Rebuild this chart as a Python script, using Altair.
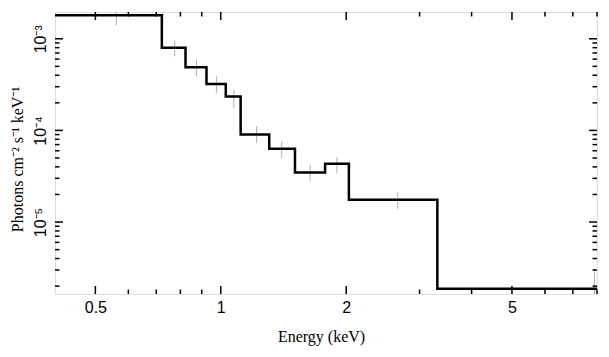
import altair as alt
import pandas as pd

# Model step histogram (bin lower edges and model values)
bin_edges = [0.40, 0.722, 0.823, 0.924, 1.028, 1.116, 1.307, 1.507, 1.78, 2.03, 3.31, 12.5]
model_vals = [1.81e-3, 8.0e-4, 4.9e-4, 3.22e-4, 2.34e-4, 9.0e-5, 6.3e-5, 3.48e-5, 4.34e-5, 1.75e-5, 1.87e-6]

# Data error bars (bin centres, lower and upper)
err_x = [0.561, 0.775, 0.874, 0.976, 1.075, 1.219, 1.40, 1.639, 1.90, 2.66, 7.89]
err_lo = [1.40e-3, 6.45e-4, 3.9e-4, 2.57e-4, 1.76e-4, 7.3e-5, 5.0e-5, 2.78e-5, 3.43e-5, 1.39e-5, 1.2e-6]
err_hi = [2.3e-3, 9.6e-4, 5.94e-4, 3.9e-4, 2.79e-4, 1.11e-4, 7.6e-5, 4.23e-5, 5.08e-5, 2.11e-5, 3.1e-6]

# Tick values
x_major = [0.5, 1, 2, 5]
x_minor = [0.6, 0.7, 0.8, 0.9, 3, 4, 6, 7, 8]
y_major = [1e-3, 1e-4, 1e-5]
y_minor = [2e-6, 3e-6, 4e-6, 5e-6, 6e-6, 7e-6, 8e-6, 9e-6,
           2e-5, 3e-5, 4e-5, 5e-5, 6e-5, 7e-5, 8e-5, 9e-5,
           2e-4, 3e-4, 4e-4, 5e-4, 6e-4, 7e-4, 8e-4, 9e-4]

W, H = 542, 282
MAJ, MIN = 8, 4.5

xscale = alt.Scale(type="log", domain=[0.4, 8], nice=False)
yscale = alt.Scale(type="log", domain=[1.64e-6, 1.96e-3], nice=False)

xaxis = alt.Axis(values=x_major, title="Energy (keV)", grid=False, ticks=False, tickSize=0,
                 domain=False, labelFont="Liberation Sans", labelFontSize=16, labelColor="black",
                 labelPadding=5, labelExpr="format(datum.value, '')",
                 titleFont="Liberation Serif", titleFontSize=16, titleFontWeight="normal",
                 titleColor="black", titleX=266, titleY=47, titleBaseline="alphabetic",
                 titleAlign="center", labelFlush=False)
yaxis = alt.Axis(values=y_major, title="Photons cm⁻² s⁻¹ keV⁻¹", grid=False, ticks=False, tickSize=0,
                 domain=False, labelFont="Liberation Sans", labelFontSize=16, labelColor="black",
                 labelAngle=270, labelAlign="center", labelBaseline="alphabetic", labelPadding=10,
                 labelExpr="datum.value < 0.00005 ? '10⁻⁵' : (datum.value < 0.0005 ? '10⁻⁴' : '10⁻³')",
                 titleFont="Liberation Serif", titleFontSize=16, titleFontWeight="normal",
                 titleColor="black", titleAngle=270, titleX=-38, titleY=147,
                 titleBaseline="middle", titleAlign="center", labelFlush=False)

step_df = pd.DataFrame({"e": bin_edges, "f": model_vals + [model_vals[-1]]})
err_df = pd.DataFrame({"e": err_x, "lo": err_lo, "hi": err_hi})

X = lambda f: alt.X(f, type="quantitative", scale=xscale, axis=xaxis)
Y = lambda f: alt.Y(f, type="quantitative", scale=yscale, axis=yaxis)

step = alt.Chart(step_df).mark_line(interpolate="step-after", color="black", strokeWidth=2.5, clip=True).encode(
    x=X("e"), y=Y("f"))

errs = alt.Chart(err_df).mark_rule(color="#b0b0b0", strokeWidth=1, clip=True).encode(
    x=X("e"), y=Y("lo"), y2="hi")

def xticks(vals, length):
    d = pd.DataFrame({"e": vals})
    bot = alt.Chart(d).mark_rule(color="black", strokeWidth=1.5).encode(
        x=X("e"), y=alt.value(H), y2=alt.value(H - length))
    top = alt.Chart(d).mark_rule(color="black", strokeWidth=1.5).encode(
        x=X("e"), y=alt.value(0), y2=alt.value(length))
    return [bot, top]

def yticks(vals, length):
    d = pd.DataFrame({"f": vals})
    left = alt.Chart(d).mark_rule(color="black", strokeWidth=1.5).encode(
        y=Y("f"), x=alt.value(0), x2=alt.value(length))
    right = alt.Chart(d).mark_rule(color="black", strokeWidth=1.5).encode(
        y=Y("f"), x=alt.value(W), x2=alt.value(W - length))
    return [left, right]

layers = [errs] + xticks(x_major, MAJ) + xticks(x_minor, MIN) + yticks(y_major, MAJ) + yticks(y_minor, MIN) + [step]

chart = alt.layer(*layers).properties(
    width=W, height=H,
    autosize=alt.AutoSizeParams(type="none"),
    padding={"left": 47, "top": 4, "right": 4, "bottom": 55},
).configure_view(stroke="black", strokeWidth=2).configure(background="white")

chart.save("out.html", embed_options={"renderer": "svg", "actions": False})
